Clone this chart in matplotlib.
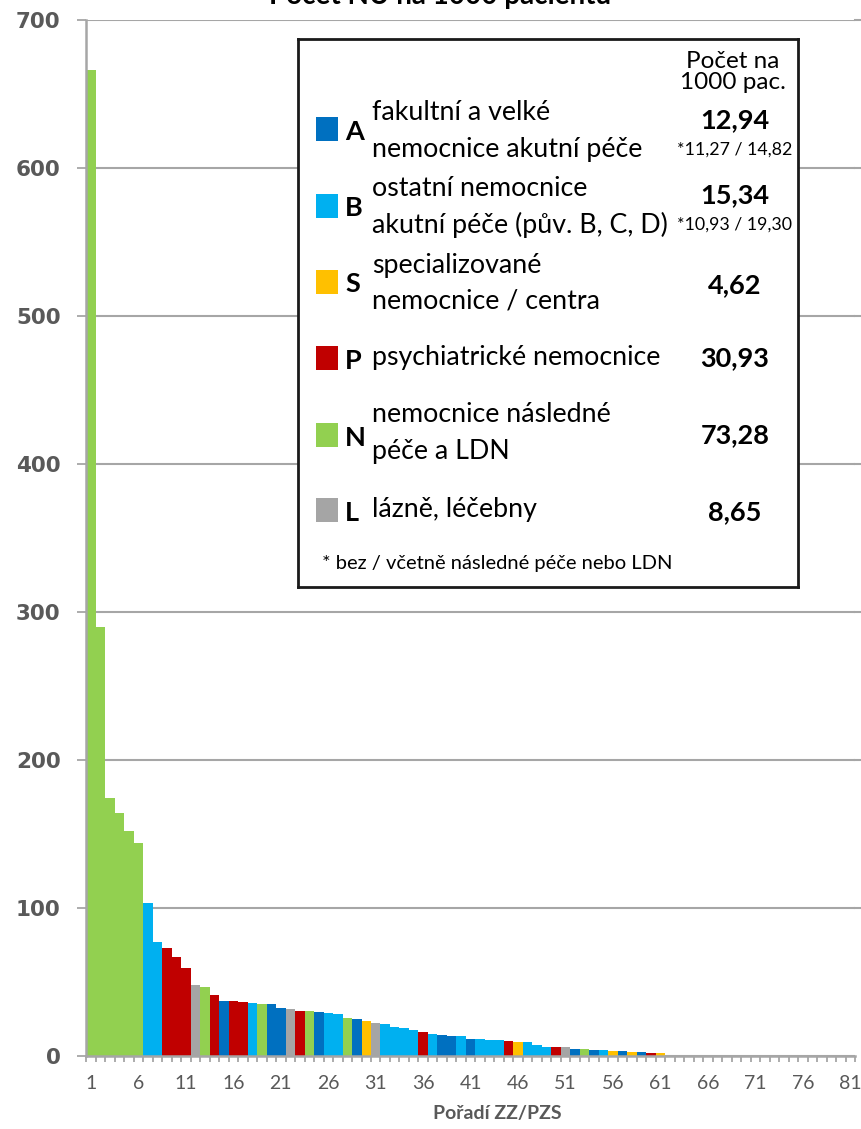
import matplotlib
matplotlib.use("Agg")
import matplotlib.pyplot as plt
from matplotlib.patches import Rectangle
from matplotlib.ticker import FixedLocator, NullFormatter

# ---------------- data ----------------
ranks = list(range(1, 82))
values = [666, 290, 174, 164, 152, 144, 103.5, 77, 73, 67,
          59.5, 48, 46.5, 41, 37.5, 37, 36.5, 35.5, 35.3, 35,
          32.5, 32, 30.5, 30.4, 29.5, 28.8, 28.6, 25.7, 24.8, 23.6,
          22.5, 21.6, 19.6, 18.7, 17.8, 16.2, 14.9, 14.2, 13.8, 13.6,
          11.7, 11.5, 10.8, 10.6, 10.1, 9.5, 9.2, 7.7, 6.3, 5.9,
          5.9, 4.5, 4.5, 3.8, 3.8, 3.4, 3.4, 2.7, 2.7, 2.0,
          1.8] + [0] * 20
groups = ["N", "N", "N", "N", "N", "N", "B", "B", "P", "P",
          "P", "L", "N", "P", "A", "P", "P", "B", "N", "A",
          "A", "L", "P", "N", "A", "B", "B", "N", "A", "S",
          "L", "B", "B", "B", "B", "P", "B", "A", "A", "B",
          "A", "B", "B", "B", "P", "S", "B", "B", "B", "P",
          "L", "A", "N", "A", "B", "S", "A", "S", "A", "P",
          "S"] + ["N"] * 20

legend_codes = ["A", "B", "S", "P", "N", "L"]
legend_labels = ["fakultní a velké\nnemocnice akutní péče",
                 "ostatní nemocnice\nakutní péče (pův. B, C, D)",
                 "specializované\nnemocnice / centra",
                 "psychiatrické nemocnice",
                 "nemocnice následné\npéče a LDN",
                 "lázně, léčebny"]
legend_values = ["12,94", "15,34", "4,62", "30,93", "73,28", "8,65"]
legend_sub = ["*11,27 / 14,82", "*10,93 / 19,30", "", "", "", ""]

yticks = [0, 100, 200, 300, 400, 500, 600, 700]
xtick_labels = list(range(1, 82, 5))

title = "Počet NU na 1000 pacientů"
xlabel = "Pořadí ZZ/PZS"
col_header = "Počet na\n1000 pac."
footnote = "* bez / včetně následné péče nebo LDN"

# ---------------- style ----------------
colors = {"A": "#0070C0", "B": "#00B0F0", "S": "#FFC000",
          "P": "#C00000", "N": "#92D050", "L": "#A5A5A5"}
W, H = 862, 1129
FONT = ["Lato", "DejaVu Sans"]
GRAY = "#595959"
GRID = "#A6A6A6"

fig = plt.figure(figsize=(W / 100, H / 100), dpi=100)

def fx(px):
    return px / W

def fy(py):
    return 1 - py / H

left_px, right_px, top_px, bot_px = 86.3, 855, 20, 1056
ax = fig.add_axes([fx(left_px), fy(bot_px), fx(right_px) - fx(left_px), fy(top_px) - fy(bot_px)])

ax.bar(ranks, values, width=1.0, color=[colors[g] for g in groups], linewidth=0, zorder=2)
ax.set_xlim(0.5, 81.5)
ax.set_ylim(0, 700)

ax.set_yticks(yticks)
ax.set_yticklabels([str(t) for t in yticks], fontfamily="DejaVu Sans", fontweight="bold",
                   fontsize=15.5, color=GRAY)
ax.tick_params(axis="y", length=6.5, width=1.3, color=GRID, pad=12)
ax.yaxis.grid(True, color=GRID, linewidth=1.5, zorder=0)
ax.set_axisbelow(True)

ax.set_xticks(xtick_labels)
ax.set_xticklabels([str(t) for t in xtick_labels], fontfamily=FONT, fontsize=14, color=GRAY)
ax.tick_params(axis="x", which="major", length=0, pad=14)
ax.xaxis.set_minor_locator(FixedLocator([i + 0.5 for i in range(0, 82)]))
ax.xaxis.set_minor_formatter(NullFormatter())
ax.tick_params(axis="x", which="minor", length=4, width=1.3, color=GRID)

for s in ["top", "right"]:
    ax.spines[s].set_visible(False)
for s in ["left", "bottom"]:
    ax.spines[s].set_color(GRID)
    ax.spines[s].set_linewidth(1.8)
ax.spines["bottom"].set_zorder(3)

# grid lines extend to figure edge
for t in yticks[1:]:
    ax.plot([81.5, 81.5 + (W - right_px) / ((right_px - left_px) / 81)], [t, t],
            color=GRID, linewidth=1.5, clip_on=False, zorder=0)

fig.text(fx(440), fy(9), title, ha="center", va="bottom", fontfamily=FONT,
         fontweight="bold", fontsize=20, color="black")
fig.text(fx(497), fy(1113), xlabel, ha="center", va="center", fontfamily=FONT,
         fontweight="bold", fontsize=14, color=GRAY)

# ---------------- legend box ----------------
lx0, lx1, ly0, ly1 = 298, 798, 39, 587
lg = fig.add_axes([fx(lx0), fy(ly1), fx(lx1) - fx(lx0), fy(ly0) - fy(ly1)])
lg.set_xlim(lx0, lx1)
lg.set_ylim(ly1, ly0)
lg.set_xticks([])
lg.set_yticks([])
lg.set_facecolor("white")
for s in lg.spines.values():
    s.set_color("#1a1a1a")
    s.set_linewidth(2)
lg.set_zorder(5)

lg.text(733, 72, col_header, ha="center", va="center", fontfamily=FONT,
        fontsize=17.5, color="black", linespacing=0.95)

rows_sq = [129, 205.5, 281.5, 358, 435, 510]
rows_l1 = [113, 188, 265, 358, 415, 510]
rows_val = [120, 195, 285, 358, 435, 512]
for i, code in enumerate(legend_codes):
    yc = rows_sq[i]
    lg.add_patch(Rectangle((316, yc - 12), 22.5, 24, facecolor=colors[code], edgecolor="none"))
    lg.text(345, yc + 3, code, ha="left", va="center", fontfamily=FONT,
            fontweight="bold", fontsize=19.5, color="black")
    lines = legend_labels[i].split("\n")
    for j, ln in enumerate(lines):
        lg.text(372, rows_l1[i] + j * 36.5, ln, ha="left", va="center", fontfamily=FONT,
                fontsize=19.3, color="black")
    lg.text(735, rows_val[i], legend_values[i], ha="center", va="center", fontfamily=FONT,
            fontweight="bold", fontsize=19.5, color="black")
    if legend_sub[i]:
        lg.text(735, rows_val[i] + 30, legend_sub[i], ha="center", va="center",
                fontfamily=FONT, fontsize=12.8, color="black")

lg.text(322, 563, footnote, ha="left", va="center", fontfamily=FONT,
        fontsize=14.5, color="black")

fig.savefig("out.png", dpi=100)
